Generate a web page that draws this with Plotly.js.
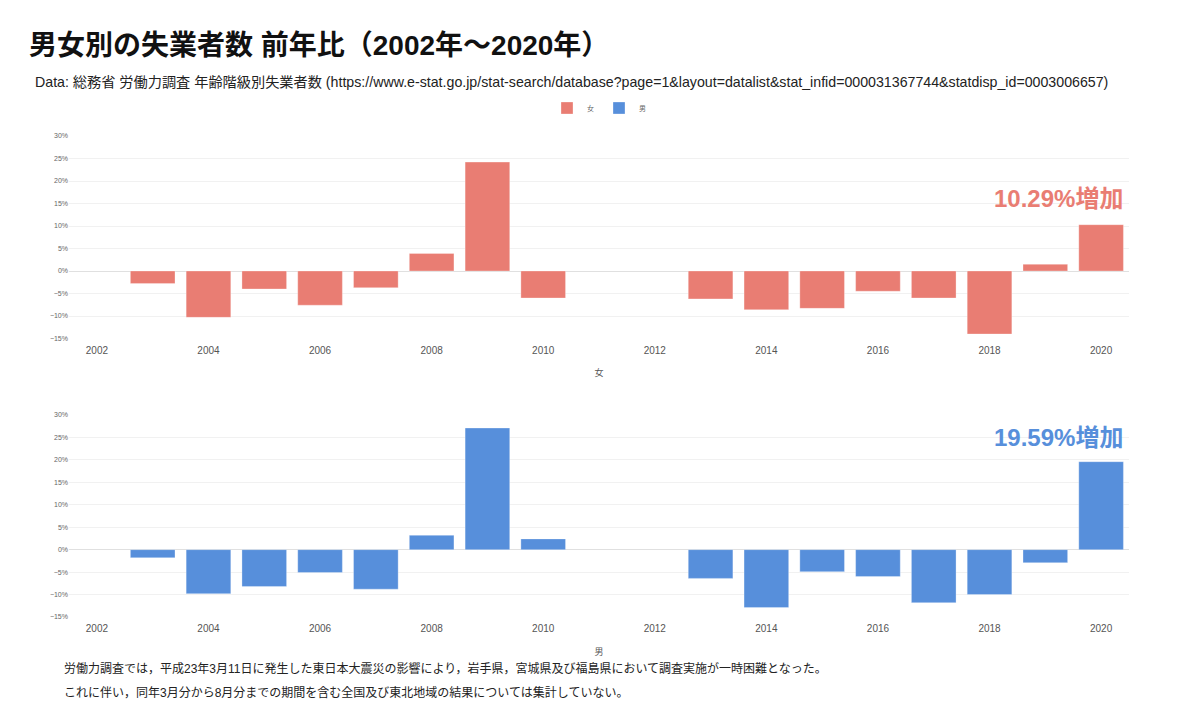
<!DOCTYPE html>
<html>
<head>
<meta charset="utf-8">
<script src="https://cdn.plot.ly/plotly-3.0.1.min.js"></script>
<style>html,body{margin:0;padding:0;background:#fff;}#chart{width:1200px;height:709px;}</style>
</head>
<body>
<div id="chart"></div>
<script>
const years = [2002,2003,2004,2005,2006,2007,2008,2009,2010,2011,2012,2013,2014,2015,2016,2017,2018,2019,2020];
const femaleChange = [null,-2.8,-10.3,-4.0,-7.6,-3.7,3.9,24.2,-6.0,null,null,-6.2,-8.6,-8.3,-4.5,-6.0,-14.0,1.5,10.29];
const maleChange   = [null,-1.8,-9.8,-8.2,-5.1,-8.8,3.2,27.1,2.4,null,null,-6.4,-12.9,-4.9,-6.0,-11.8,-10.0,-2.9,19.59];
const seriesNames = ['女','男'];
const titleText = '男女別の失業者数 前年比（2002年〜2020年）';
const sourceText = 'Data: 総務省 労働力調査 年齢階級別失業者数 (https://www.e-stat.go.jp/stat-search/database?page=1&layout=datalist&stat_infid=000031367744&statdisp_id=0003006657)';
const noteLines = [
  '労働力調査では，平成23年3月11日に発生した東日本大震災の影響により，岩手県，宮城県及び福島県において調査実施が一時困難となった。',
  'これに伴い，同年3月分から8月分までの期間を含む全国及び東北地域の結果については集計していない。'
];

const red = 'rgb(233,125,115)';
const blue = 'rgb(87,143,219)';
const FONT = '"Liberation Sans", "Noto Sans CJK JP", sans-serif';

const traces = [
  {type:'bar', x:years, y:femaleChange, name:seriesNames[0], xaxis:'x', yaxis:'y',
   marker:{color:red, line:{color:'rgba(255,255,255,0.6)', width:0.5}}, width:0.8},
  {type:'bar', x:years, y:maleChange, name:seriesNames[1], xaxis:'x2', yaxis:'y2',
   marker:{color:blue, line:{color:'rgba(255,255,255,0.6)', width:0.5}}, width:0.8}
];

const xCommon = {range:[2001.5,2020.5], tickmode:'linear', tick0:2002, dtick:2, showgrid:false,
  zeroline:false, showline:false, ticks:'outside', ticklen:2, tickcolor:'rgba(0,0,0,0)', tickfont:{size:10, color:'#555'}};
const yCommon = {range:[-15,30], tickmode:'linear', tick0:-15, dtick:5, ticksuffix:'%',
  showgrid:true, gridcolor:'#f1f1f1', gridwidth:1, zeroline:true, zerolinecolor:'#e0e0e0', zerolinewidth:1,
  tickfont:{size:7, color:'#666'}, ticks:'', showline:false};

const layout = {
  width:1200, height:709,
  margin:{l:69, r:71, t:136, b:92},
  paper_bgcolor:'#fff', plot_bgcolor:'#fff',
  font:{family:FONT, color:'#333'},
  title:{text:'<b>'+titleText+'</b>', x:29/1200, xanchor:'left', xref:'container',
         y:1-45/709, yanchor:'middle', yref:'container', font:{size:28, color:'#111', family:FONT}},
  showlegend:true,
  legend:{orientation:'h', x:0.5, xanchor:'center', y:1+28/481, yanchor:'middle',
          font:{size:7, color:'#666'}, itemwidth:30, bgcolor:'rgba(0,0,0,0)'},
  bargap:0.2,
  xaxis:Object.assign({}, xCommon, {anchor:'y', domain:[0,1],
     title:{text:seriesNames[0], font:{size:9, color:'#555'}, standoff:15}}),
  yaxis:Object.assign({}, yCommon, {domain:[0.579,1], anchor:'x'}),
  xaxis2:Object.assign({}, xCommon, {anchor:'y2', domain:[0,1],
     title:{text:seriesNames[1], font:{size:9, color:'#555'}, standoff:15}}),
  yaxis2:Object.assign({}, yCommon, {domain:[0,0.42], anchor:'x2'}),
  annotations:[
    {text:sourceText, xref:'paper', yref:'paper', x:(33-69)/1060, y:1+(136-82)/481,
     xanchor:'left', yanchor:'middle', showarrow:false, font:{size:14.2, color:'#222'}},
    {text:'<b>'+femaleChange[femaleChange.length-1].toFixed(2)+'%増加</b>', xref:'paper', yref:'paper',
     x:(1125-69)/1060, y:(617-198)/481, xanchor:'right', yanchor:'middle', showarrow:false,
     font:{size:24, color:red}},
    {text:'<b>'+maleChange[maleChange.length-1].toFixed(2)+'%増加</b>', xref:'paper', yref:'paper',
     x:(1125-69)/1060, y:(617-438)/481, xanchor:'right', yanchor:'middle', showarrow:false,
     font:{size:24, color:blue}},
    {text:noteLines[0], xref:'paper', yref:'paper', x:(62-69)/1060, y:(617-668)/481,
     xanchor:'left', yanchor:'middle', showarrow:false, font:{size:12, color:'#222'}},
    {text:noteLines[1], xref:'paper', yref:'paper', x:(62-69)/1060, y:(617-692)/481,
     xanchor:'left', yanchor:'middle', showarrow:false, font:{size:12, color:'#222'}}
  ]
};

Plotly.newPlot('chart', traces, layout, {displayModeBar:false, staticPlot:true});
</script>
</body>
</html>
